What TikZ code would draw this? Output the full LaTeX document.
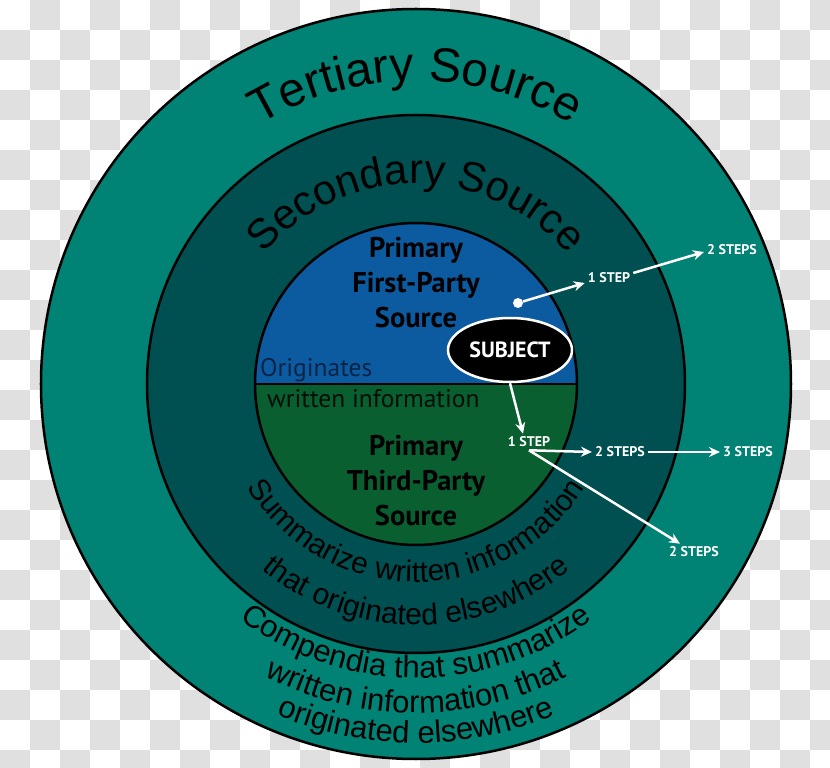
\documentclass[tikz,border=0pt]{standalone}
\usepackage{fontspec}
\usepackage{tikz}
\usetikzlibrary{arrows.meta}
\usetikzlibrary{decorations.text}
\usetikzlibrary{shapes.geometric}
\setmainfont{Liberation Sans}
\newfontfamily\labelfont{PT Sans}
\definecolor{tertcol}{HTML}{008274}
\definecolor{seccol}{HTML}{005052}
\definecolor{firstcol}{HTML}{0C5BA0}
\definecolor{thirdcol}{HTML}{0A5F30}
\definecolor{checkgray}{HTML}{E0E0E0}
\definecolor{navytext}{HTML}{0A2448}
\tikzset{
  ring/.style={draw=black, line width=2.5pt},
  primlabel/.style={font=\labelfont\bfseries\fontsize{28.5}{35}\selectfont, align=center, text=black},
  steplabel/.style={font=\labelfont\bfseries\fontsize{14}{14}\selectfont, text=white, inner sep=3pt},
  steparrow/.style={draw=white, line width=2.5pt, -{Stealth[length=11pt,width=10pt]}},
}

\begin{document}
\begin{tikzpicture}[x=1pt,y=1pt]
\clip (-416,-384) rectangle (414,384);
% checker background
\foreach \i in {0,...,27}
  \foreach \j in {0,...,25}
  {
    \ifodd\numexpr\i+\j\relax
      \fill[checkgray] (30*\i-416,384-30*\j) rectangle ++(30,-30);
    \fi
  }

% rings
\filldraw[ring, fill=tertcol] (0,0) circle (375);
\filldraw[ring, fill=seccol] (0,0) circle (269);
\fill[firstcol] (161,0) arc (0:180:161) -- cycle;
\fill[thirdcol] (-161,0) arc (180:360:161) -- cycle;
\draw[ring] (0,0) circle (161);
\draw[ring] (-161,0) -- (161,0);

% curved titles
\path[decorate, decoration={text along path, text align=center,
  text={|\fontsize{48}{48}\selectfont|Tertiary Source}}] (160:303) arc (160:20:303);
\path[decorate, decoration={text along path, text align=center,
  text={|\fontsize{42}{42}\selectfont|Secondary Source}}] (170:200) arc (170:10:200);
\path[decorate, decoration={text along path, text align=center,
  text={|\fontsize{30}{30}\selectfont|Summarize written information}}] (195:198) arc (195:345:198);
\path[decorate, decoration={text along path, text align=center,
  text={|\fontsize{30}{30}\selectfont|that originated elsewhere}}] (205:241) arc (205:335:241);
\path[decorate, decoration={text along path, text align=center,
  text={|\fontsize{31}{31}\selectfont|Compendia that summarize}}] (210:294) arc (210:330:294);
\path[decorate, decoration={text along path, text align=center,
  text={|\fontsize{31}{31}\selectfont|written information that}}] (215:329) arc (215:325:329);
\path[decorate, decoration={text along path, text align=center,
  text={|\fontsize{31}{31}\selectfont|originated elsewhere}}] (220:359) arc (220:320:359);

% primary sources
\node[primlabel] (first) at (0,101) {Primary\\First-Party\\Source};
\node[primlabel] (third) at (0,-97) {Primary\\Third-Party\\Source};
\node[font=\labelfont\fontsize{25.5}{25.5}\selectfont, text=navytext, anchor=base west, inner sep=0pt] (orig) at (-156,7) {Originates};
\node[font=\labelfont\fontsize{25.5}{25.5}\selectfont, text=black!85!thirdcol, anchor=base west, inner sep=0pt] (written) at (-149,-24) {written information};

% subject and steps
\node[ellipse, draw=white, line width=2.5pt, fill=black, text=white,
  font=\labelfont\bfseries\fontsize{22}{22}\selectfont,
  minimum width=124pt, minimum height=64pt, inner sep=0pt] (subject) at (94,34) {SUBJECT};
\node[circle, fill=white, inner sep=0pt, minimum size=10pt] (dot) at (102,81) {};
\node[steplabel] (stepA1) at (193,106) {1 STEP};
\node[steplabel] (stepA2) at (316,134) {2 STEPS};
\node[steplabel] (stepB1) at (113,-58) {1 STEP};
\node[steplabel] (stepB2) at (204,-68) {2 STEPS};
\node[steplabel] (stepB3) at (332,-68) {3 STEPS};
\node[steplabel] (stepC2) at (278,-168) {2 STEPS};

\draw[steparrow] (dot) -- ([yshift=-5pt]stepA1.west);
\draw[steparrow] ([yshift=5pt]stepA1.east) -- ([yshift=-2pt]stepA2.west);
\draw[steparrow] (subject.south) -- ([xshift=-6pt]stepB1.north);
\draw[steparrow] (stepB1.south) -- (stepB2.west);
\draw[steparrow] (stepB2.east) -- (stepB3.west);
\draw[steparrow] (stepB1.south) -- ([xshift=-14pt]stepC2.north);
\end{tikzpicture}
\end{document}
